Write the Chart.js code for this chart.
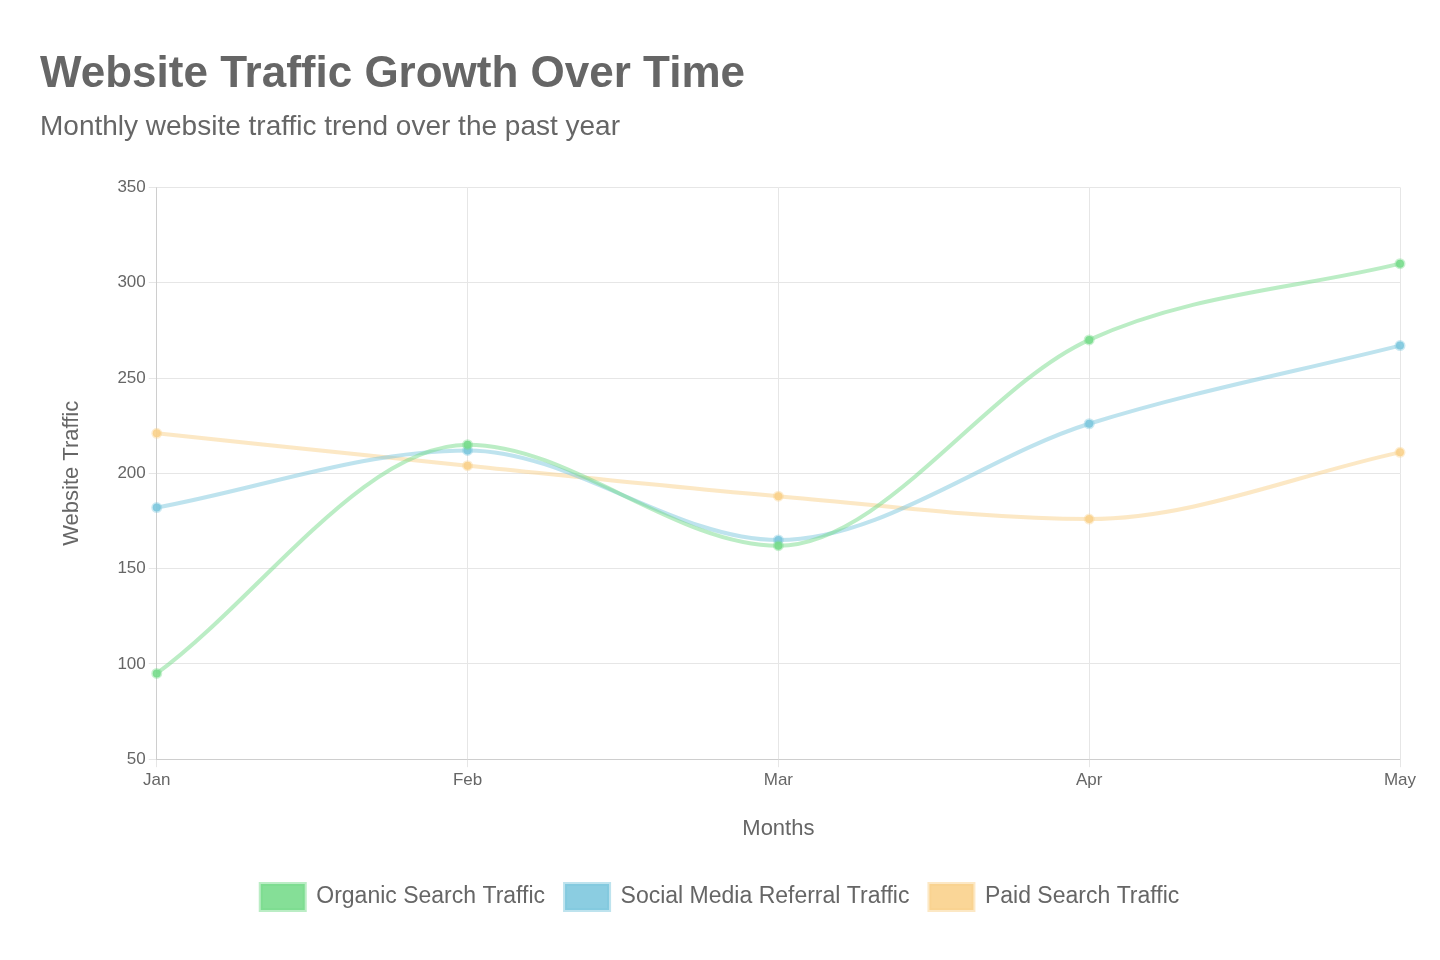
<!DOCTYPE html>
<html>
<head>
<meta charset="utf-8">
<script src="https://cdn.jsdelivr.net/npm/chart.js@4"></script>
<style>
  html, body { margin: 0; padding: 0; background: #fff; }
  #wrap { width: 1440px; height: 960px; }
</style>
</head>
<body>
<div id="wrap"><canvas id="myChart" width="1440" height="960"></canvas></div>
<script>
const months = ["Jan", "Feb", "Mar", "Apr", "May"];
const organic = [95, 215, 162, 270, 310];
const social = [182, 212, 165, 226, 267];
const paid = [221, 204, 188, 176, 211];

Chart.defaults.font.family = "'Liberation Sans', Arial, sans-serif";
Chart.defaults.color = "#666";

function series(label, data, rgb) {
  return {
    label: label,
    data: data,
    borderColor: `rgba(${rgb}, 0.5)`,
    backgroundColor: `rgba(${rgb}, 0.9)`,
    pointBackgroundColor: `rgba(${rgb}, 0.9)`,
    pointBorderColor: `rgba(${rgb}, 0.4)`,
    borderWidth: 4,
    pointRadius: 4,
    pointBorderWidth: 3,
    cubicInterpolationMode: "monotone"
  };
}

new Chart(document.getElementById("myChart"), {
  type: "line",
  data: {
    labels: months,
    datasets: [
      series("Organic Search Traffic", organic, "120, 220, 140"),
      series("Social Media Referral Traffic", social, "126, 200, 222"),
      series("Paid Search Traffic", paid, "250, 210, 140")
    ]
  },
  options: {
    responsive: false,
    animation: false,
    layout: { padding: { left: 40, right: 40, top: 48, bottom: 40 } },
    scales: {
      x: {
        title: { display: true, text: "Months", font: { size: 22 }, padding: { top: 22, bottom: 22 } },
        ticks: { font: { size: 17 } },
        grid: { color: "#e6e6e6" }
      },
      y: {
        min: 50, max: 350,
        ticks: { stepSize: 50, font: { size: 17 } },
        title: { display: true, text: "Website Traffic", font: { size: 22 }, padding: { top: 19, bottom: 29 } },
        grid: { color: "#e6e6e6" }
      }
    },
    plugins: {
      title: { display: true, text: "Website Traffic Growth Over Time", align: "start",
        font: { size: 44, weight: "bold" }, padding: { bottom: 10 } },
      subtitle: { display: true, text: "Monthly website traffic trend over the past year", align: "start",
        font: { size: 28 }, padding: { bottom: 43 } },
      legend: { position: "bottom",
        labels: { boxWidth: 44, boxHeight: 26, font: { size: 23 }, padding: 20 } }
    }
  }
});
</script>
</body>
</html>
